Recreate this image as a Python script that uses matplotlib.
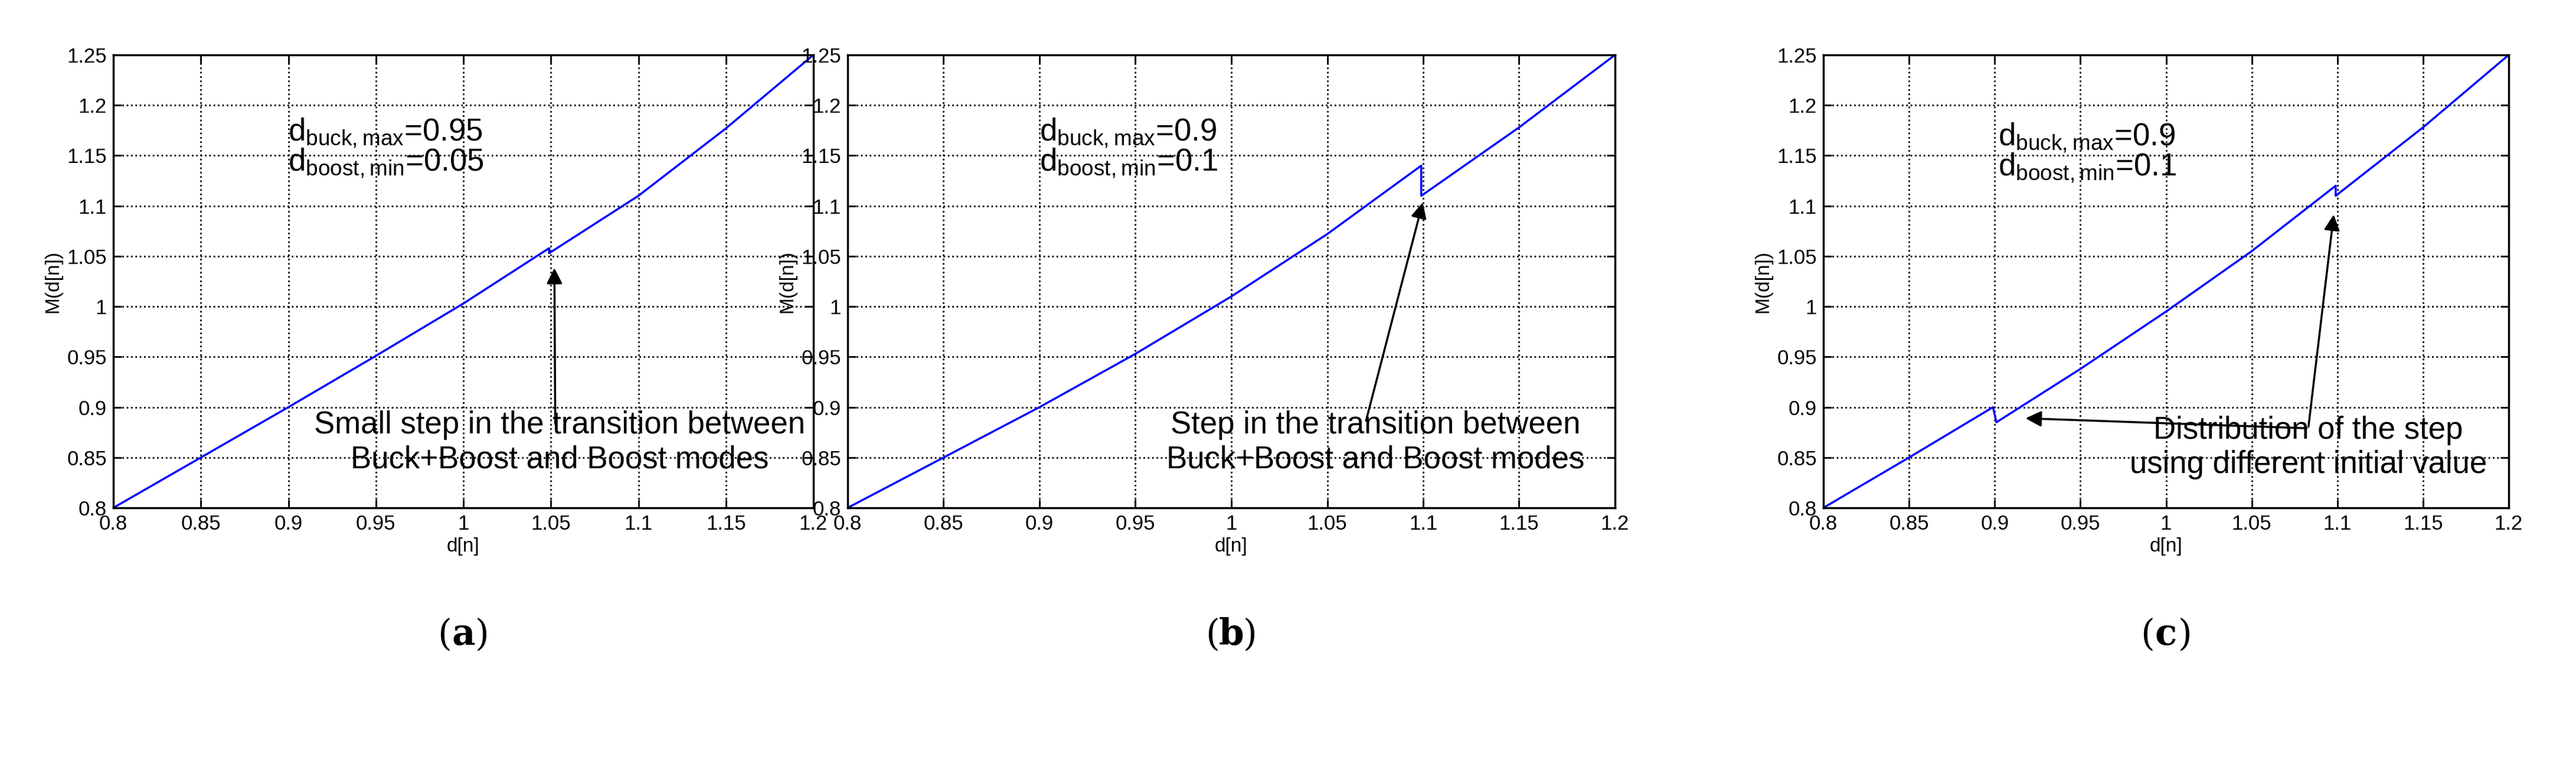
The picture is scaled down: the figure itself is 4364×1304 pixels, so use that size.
import matplotlib.pyplot as plt
import numpy as np

# M(d[n]) curves (d, M pairs; repeated d = step)
d_a = [0.80, 0.85, 0.90, 0.95, 1.00, 1.049, 1.049, 1.10, 1.15, 1.20]
m_a = [0.80, 0.850, 0.900, 0.951, 1.003, 1.058, 1.053, 1.110, 1.177, 1.250]
d_b = [0.80, 0.85, 0.90, 0.95, 1.00, 1.05, 1.099, 1.099, 1.15, 1.20]
m_b = [0.80, 0.850, 0.900, 0.953, 1.010, 1.072, 1.140, 1.110, 1.178, 1.250]
d_c = [0.80, 0.85, 0.899, 0.901, 0.95, 1.00, 1.05, 1.099, 1.099, 1.15, 1.20]
m_c = [0.80, 0.850, 0.900, 0.885, 0.938, 0.995, 1.055, 1.120, 1.110, 1.178, 1.250]

xticks = [0.8, 0.85, 0.9, 0.95, 1, 1.05, 1.1, 1.15, 1.2]
yticks = [0.8, 0.85, 0.9, 0.95, 1, 1.05, 1.1, 1.15, 1.2, 1.25]
xlabels = ['0.8', '0.85', '0.9', '0.95', '1', '1.05', '1.1', '1.15', '1.2']
ylabels = ['0.8', '0.85', '0.9', '0.95', '1', '1.05', '1.1', '1.15', '1.2', '1.25']

plt.rcParams['font.family'] = ['Liberation Sans', 'DejaVu Sans']
fig = plt.figure(figsize=(43.64, 13.04), dpi=100)
W, H = 4364, 1304
boxes = [(192, 1378), (1436, 2736), (3089, 4250)]
top, bot = 93, 860


def setup(ax):
    ax.set_xlim(0.8, 1.2)
    ax.set_ylim(0.8, 1.25)
    ax.set_xticks(xticks)
    ax.set_xticklabels(xlabels)
    ax.set_yticks(yticks)
    ax.set_yticklabels(ylabels)
    ax.tick_params(labelsize=25, direction='in', length=10, width=2, top=True, right=True, pad=8)
    ax.grid(True, color='black', linestyle=':', linewidth=2)
    for s in ax.spines.values():
        s.set_linewidth(2.5)
    ax.set_xlabel('d[n]', fontsize=24, labelpad=4)
    ax.set_ylabel('M(d[n])', fontsize=24, labelpad=6)


axes = []
for l, r in boxes:
    ax = fig.add_axes([l / W, 1 - bot / H, (r - l) / W, (bot - top) / H])
    setup(ax)
    axes.append(ax)

series = [(d_a, m_a), (d_b, m_b), (d_c, m_c)]
for ax, (d, m) in zip(axes, series):
    ax.plot(d, m, color='blue', linewidth=2.5)

ann = dict(arrowstyle='-|>', color='black', lw=2.5, mutation_scale=40)
fs = 38

# (a)
axes[0].text(0.9, 1.165, r'$\mathregular{d_{buck,max}}$=0.95', fontsize=fs)
axes[0].text(0.9, 1.135, r'$\mathregular{d_{boost,min}}$=0.05', fontsize=fs)
axes[0].annotate('', xy=(1.052, 1.04), xytext=(1.0525, 0.882), arrowprops=ann)
axes[0].text(1.055, 0.865, 'Small step in the transition between\nBuck+Boost and Boost modes',
             fontsize=fs, ha='center', va='center', linespacing=1.2)

# (b)
axes[1].text(0.9, 1.165, r'$\mathregular{d_{buck,max}}$=0.9', fontsize=fs)
axes[1].text(0.9, 1.135, r'$\mathregular{d_{boost,min}}$=0.1', fontsize=fs)
axes[1].annotate('', xy=(1.1, 1.105), xytext=(1.07, 0.885), arrowprops=ann)
axes[1].text(1.075, 0.865, 'Step in the transition between\nBuck+Boost and Boost modes',
             fontsize=fs, ha='center', va='center', linespacing=1.2)

# (c)
axes[2].text(0.902, 1.16, r'$\mathregular{d_{buck,max}}$=0.9', fontsize=fs)
axes[2].text(0.902, 1.13, r'$\mathregular{d_{boost,min}}$=0.1', fontsize=fs)
axes[2].annotate('', xy=(1.098, 1.093), xytext=(1.083, 0.879), arrowprops=ann)
axes[2].annotate('', xy=(0.917, 0.889), xytext=(1.083, 0.879), arrowprops=ann)
axes[2].text(1.083, 0.86, 'Distribution of the step\nusing different initial value',
             fontsize=fs, ha='center', va='center', linespacing=1.2)

for (l, r), lab in zip(boxes, ['a', 'b', 'c']):
    cx = (l + r) / 2 / W
    y = 1 - 1075 / H
    fig.text(cx - 0.0045, y, '(', fontsize=44, family='DejaVu Serif', ha='right', va='center')
    fig.text(cx, y, lab, fontsize=44, family='DejaVu Serif', weight='bold', ha='center', va='center')
    fig.text(cx + 0.0045, y, ')', fontsize=44, family='DejaVu Serif', ha='left', va='center')

fig.savefig('out.png', dpi=100)
